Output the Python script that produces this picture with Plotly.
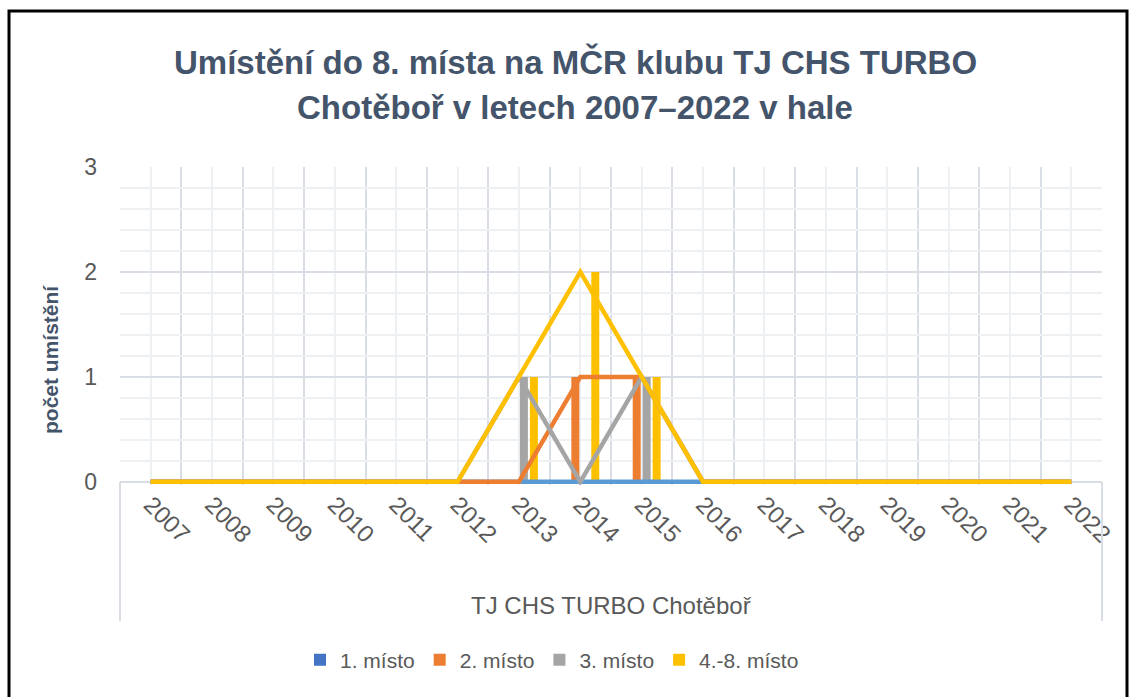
import plotly.graph_objects as go

# ---- data ----
years = [2007, 2008, 2009, 2010, 2011, 2012, 2013, 2014,
         2015, 2016, 2017, 2018, 2019, 2020, 2021, 2022]
year_labels = [str(y) for y in years]
series_names = ["1. místo", "2. místo", "3. místo", "4.-8. místo"]
first_place = [0, 0, 0, 0, 0, 0, 0, 0, 0, 0, 0, 0, 0, 0, 0, 0]
second_place = [0, 0, 0, 0, 0, 0, 0, 1, 1, 0, 0, 0, 0, 0, 0, 0]
third_place = [0, 0, 0, 0, 0, 0, 1, 0, 1, 0, 0, 0, 0, 0, 0, 0]
fourth_eighth = [0, 0, 0, 0, 0, 0, 1, 2, 1, 0, 0, 0, 0, 0, 0, 0]
y_ticks = [0, 1, 2, 3]

values = [first_place, second_place, third_place, fourth_eighth]
bar_colors = ["#4472C4", "#ED7D31", "#A5A5A5", "#FFC000"]
line_colors = ["#5B9BD5", "#ED7D31", "#A5A5A5", "#FFC000"]

# ---- layout geometry (pixels) ----
W, H = 1129, 697
L, R, T, B = 120, 1102, 167, 485


def px_x(x):
    return (x - L) / (R - L)


def px_y(y):
    return (B - y) / (B - T)


text_col = "#595959"
title_col = "#44546A"
major_grid = "#D9DEE6"
minor_grid = "#EEF1F4"
FONT = "Liberation Sans, Arial, sans-serif"

fig = go.Figure()

for name, vals, col in zip(series_names, values, bar_colors):
    fig.add_trace(go.Bar(x=years, y=vals, name=name, marker_color=col,
                         marker_line_width=0, showlegend=True))

for name, vals, col in zip(series_names, values, line_colors):
    fig.add_trace(go.Scatter(x=years, y=vals, name=name, mode="lines",
                             line=dict(color=col, width=4.5),
                             showlegend=False, cliponaxis=False))

shapes = [
    # multi-level category dividers extending below the plot
    dict(type="line", xref="paper", yref="paper", x0=0, x1=0,
         y0=px_y(482), y1=px_y(621), line=dict(color=major_grid, width=2)),
    dict(type="line", xref="paper", yref="paper", x0=1, x1=1,
         y0=px_y(482), y1=px_y(621), line=dict(color=major_grid, width=2)),
    # chart frame
    dict(type="rect", xref="paper", yref="paper", x0=px_x(9), x1=px_x(1127),
         y0=px_y(705), y1=px_y(11), line=dict(color="black", width=3),
         layer="above"),
]

annotations = [
    dict(text="Umístění do 8. místa na MČR klubu TJ CHS TURBO", xref="paper",
         yref="paper", x=px_x(575), y=px_y(62), showarrow=False,
         font=dict(family=FONT, size=33, color=title_col, weight="bold"),
         xanchor="center", yanchor="middle"),
    dict(text="Chotěboř v letech 2007–2022 v hale", xref="paper",
         yref="paper", x=px_x(575), y=px_y(107), showarrow=False,
         font=dict(family=FONT, size=33, color=title_col, weight="bold"),
         xanchor="center", yanchor="middle"),
    dict(text="počet umístění", xref="paper", yref="paper", x=px_x(50),
         y=px_y(360), textangle=-90, showarrow=False,
         font=dict(family=FONT, size=21, color=title_col, weight="bold"),
         xanchor="center", yanchor="middle"),
    dict(text="TJ CHS TURBO Chotěboř", xref="paper", yref="paper",
         x=px_x(611), y=px_y(605), showarrow=False,
         font=dict(family=FONT, size=24, color=text_col),
         xanchor="center", yanchor="middle"),
]

fig.update_layout(
    width=W, height=H,
    margin=dict(l=L, r=W - R, t=T, b=H - B, autoexpand=False),
    paper_bgcolor="white", plot_bgcolor="white",
    barmode="group", bargap=0.35, bargroupgap=0.2,
    font=dict(family=FONT, color=text_col),
    xaxis=dict(range=[years[0] - 0.5, years[-1] + 0.5],
               tickmode="array", tickvals=years, ticktext=year_labels,
               tickangle=45, tickfont=dict(size=24, color=text_col),
               showgrid=True, gridcolor=minor_grid, gridwidth=2,
               zeroline=False, showline=False, ticks="",
               minor=dict(tickmode="linear", tick0=years[0] - 0.5, dtick=1,
                          showgrid=True, gridcolor=major_grid, gridwidth=2)),
    yaxis=dict(range=[-0.03, 3], tickmode="array", tickvals=y_ticks,
               tickfont=dict(size=23, color=text_col),
               showgrid=True, gridcolor=major_grid, gridwidth=2,
               zeroline=False, showline=False, ticks="",
               ticklabelstandoff=22,
               minor=dict(tickmode="linear", tick0=0, dtick=0.2,
                          showgrid=True, gridcolor=minor_grid, gridwidth=2)),
    legend=dict(orientation="h", x=px_x(552), xanchor="center",
                y=px_y(660), yanchor="middle",
                font=dict(size=21, color=text_col, family=FONT),
                traceorder="normal", itemwidth=30),
    shapes=shapes,
    annotations=annotations,
)

fig.write_html("out.html",
               config={"displayModeBar": False},
               post_script="document.body.style.margin='0';"
                           "document.body.style.overflow='hidden';")
